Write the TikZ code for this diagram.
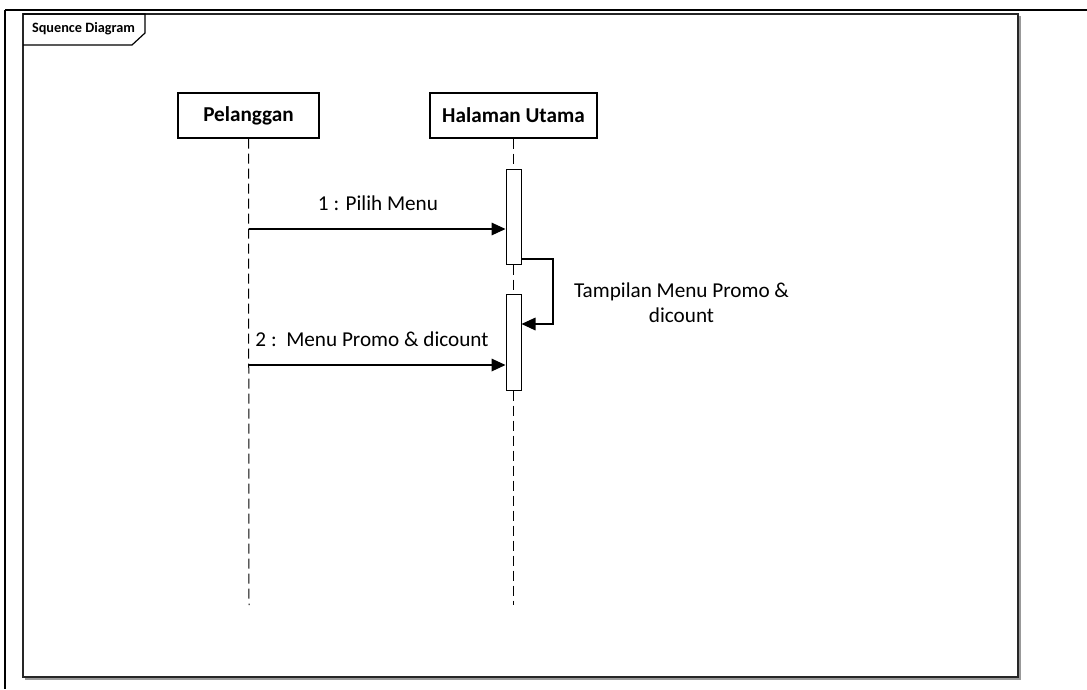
\documentclass[tikz,border=0pt]{standalone}
\usepackage{fontspec}
\setmainfont{Carlito}
\usetikzlibrary{arrows.meta}
\begin{document}
\begin{tikzpicture}[x=0.75pt,y=-0.75pt,
  lifebox/.style={draw,line width=0.9pt,fill=white,minimum height=33.75pt,
    inner sep=0pt,font=\fontsize{15.9}{18.75}\selectfont\bfseries},
  actbox/.style={draw,line width=0.75pt,fill=white,minimum width=11.25pt,inner sep=0pt},
  lifeline/.style={line width=0.75pt,dash pattern=on 7.5pt off 3.75pt},
  msg/.style={line width=0.9pt,-{Triangle[length=10.5pt,width=9.5pt]}},
  msglabel/.style={font=\fontsize{15.9}{18.75}\selectfont,align=center,inner sep=0pt},
  framebox/.style={line width=1.1pt,draw=black!85}]
\useasboundingbox (0,0) rectangle (1087,689);
\fill[white] (0,0) rectangle (1087,689);

% page edges
\draw[line width=1.6pt] (5,10) -- (1087,10);
\draw[line width=1.6pt] (5,10) -- (5,689);

% diagram frame with a soft shadow
\draw[line width=1.2pt,black!40] (25,679) -- (1020,679) -- (1020,16);
\draw[framebox] (23,14) rectangle (1018,677);
\draw[line width=0.9pt] (23,14) -- (145,14) -- (145,33) -- (132,45) -- (23,45);
\node[font=\fontsize{10.7}{12}\selectfont\bfseries,inner sep=0pt] (title) at (83.5,29) {Squence Diagram};

% participants
\node[lifebox,minimum width=105.75pt] (p) at (248.5,115.5) {Pelanggan};
\node[lifebox,minimum width=125.25pt] (h) at (513.5,115.5) {Halaman Utama};

% activations
\node[actbox,minimum height=71.25pt] (a1) at (513.5,216.5) {};
\node[actbox,minimum height=72pt] (a2) at (513.5,342) {};

% lifelines
\coordinate (pend) at (249,605);
\coordinate (hend) at (513.5,605);
\draw[lifeline] (p.south) -- (pend);
\draw[lifeline] (h.south) -- (a1.north);
\draw[lifeline] (a1.south) -- (a2.north);
\draw[lifeline] (a2.south) -- (hend);

% messages
\coordinate (m1) at (249,229);
\coordinate (m2) at (249,365);
\draw[msg] (m1) -- (m1 -| a1.west);
\draw[msg] (m2) -- (m2 -| a2.west);
\node[msglabel] (l1) at (378,203) {1 : Pilih Menu};
\node[msglabel] (l2) at (372,339) {2 :\ \ Menu Promo \& dicount};

% self message
\coordinate (s1) at (521,259);
\coordinate (s2) at (553,324);
\draw[msg] (s1) -- (s1 -| s2) -- (s2) -- (s2 -| a2.east);
\node[msglabel] (l3) at (681.5,302.5) {Tampilan Menu Promo \&\\dicount};
\end{tikzpicture}
\end{document}
